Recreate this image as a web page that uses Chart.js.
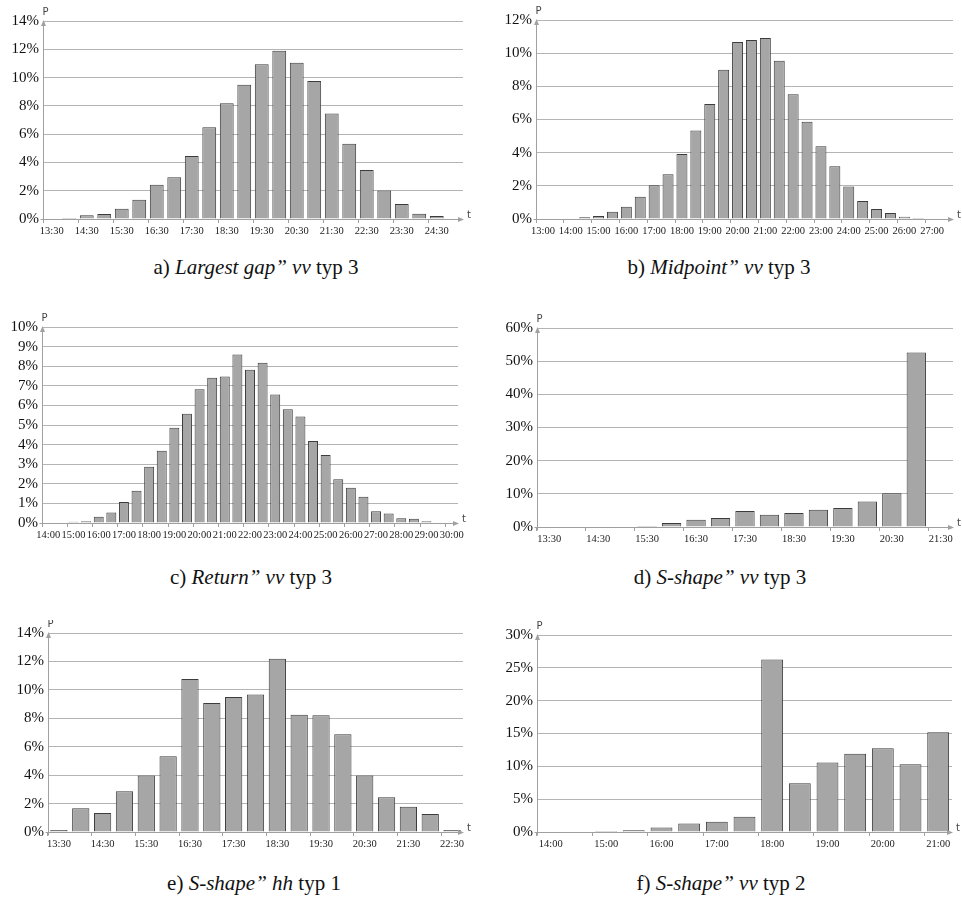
<!DOCTYPE html>
<html>
<head>
<meta charset="utf-8">
<script src="https://cdn.jsdelivr.net/npm/chart.js@4.4.1/dist/chart.umd.min.js"></script>
<style>
  body { margin: 0; background: #fff; width: 962px; height: 900px; position: relative; overflow: hidden; }
  canvas { position: absolute; }
  .cap { position: absolute; width: 400px; text-align: center; font-family: "Liberation Serif", "Times New Roman", serif; font-size: 21px; color: #111; line-height: 24px; white-space: nowrap; }
</style>
</head>
<body>
<canvas id="chartA" width="480" height="250" style="left:0;top:0"></canvas>
<canvas id="chartB" width="482" height="250" style="left:480px;top:0"></canvas>
<canvas id="chartC" width="480" height="250" style="left:0;top:300px"></canvas>
<canvas id="chartD" width="482" height="250" style="left:480px;top:300px"></canvas>
<canvas id="chartE" width="480" height="240" style="left:0;top:620px"></canvas>
<canvas id="chartF" width="482" height="240" style="left:480px;top:620px"></canvas>

<div class="cap" style="left:56px;top:255px">a) <i>Largest gap” vv</i> typ 3</div>
<div class="cap" style="left:519px;top:255px">b) <i>Midpoint” vv</i> typ 3</div>
<div class="cap" style="left:51px;top:565px">c) <i>Return” vv</i> typ 3</div>
<div class="cap" style="left:520px;top:565px">d) <i>S-shape” vv</i> typ 3</div>
<div class="cap" style="left:54px;top:871px">e) <i>S-shape” hh</i> typ 1</div>
<div class="cap" style="left:521px;top:871px">f) <i>S-shape” vv</i> typ 2</div>

<script>
// categories (half-hour slots) and values in %
const catA = ['13:30','14:00','14:30','15:00','15:30','16:00','16:30','17:00','17:30','18:00','18:30','19:00',
  '19:30','20:00','20:30','21:00','21:30','22:00','22:30','23:00','23:30','24:00','24:30','25:00'];
const valA = [0, 0.07, 0.26, 0.35, 0.73, 1.36, 2.42, 2.96, 4.45, 6.49, 8.19, 9.5,
  10.94, 11.9, 11.05, 9.76, 7.46, 5.32, 3.46, 2.02, 1.06, 0.38, 0.21, 0];

const catB = ['13:00','13:30','14:00','14:30','15:00','15:30','16:00','16:30','17:00','17:30','18:00','18:30',
  '19:00','19:30','20:00','20:30','21:00','21:30','22:00','22:30','23:00','23:30','24:00','24:30',
  '25:00','25:30','26:00','26:30','27:00','27:30'];
const valB = [0, 0, 0, 0.1, 0.18, 0.44, 0.74, 1.34, 2.04, 2.7, 3.92, 5.34,
  6.94, 9.0, 10.68, 10.8, 10.92, 9.54, 7.52, 5.86, 4.38, 3.18, 1.96, 1.08,
  0.6, 0.36, 0.14, 0.06, 0, 0];

const catC = ['14:00','14:30','15:00','15:30','16:00','16:30','17:00','17:30','18:00','18:30','19:00','19:30',
  '20:00','20:30','21:00','21:30','22:00','22:30','23:00','23:30','24:00','24:30','25:00','25:30',
  '26:00','26:30','27:00','27:30','28:00','28:30','29:00','29:30','30:00'];
const valC = [0, 0.03, 0.07, 0.09, 0.32, 0.54, 1.07, 1.65, 2.87, 3.69, 4.86, 5.58,
  6.82, 7.41, 7.48, 8.6, 7.82, 8.18, 6.55, 5.8, 5.43, 4.18, 3.47, 2.23,
  1.8, 1.34, 0.6, 0.49, 0.24, 0.22, 0.09, 0.03, 0];

const catD = ['13:30','14:00','14:30','15:00','15:30','16:00','16:30','17:00','17:30','18:00','18:30','19:00',
  '19:30','20:00','20:30','21:00','21:30'];
const valD = [0, 0, 0, 0, 0.3, 1.2, 2.2, 2.7, 4.8, 3.7, 4.2, 5.2, 5.7, 7.7, 10.2, 52.6, 0];

const catE = ['13:30','14:00','14:30','15:00','15:30','16:00','16:30','17:00','17:30','18:00','18:30','19:00',
  '19:30','20:00','20:30','21:00','21:30','22:00','22:30'];
const valE = [0.14, 1.67, 1.34, 2.86, 3.97, 5.33, 10.77, 9.08, 9.5, 9.67, 12.18, 8.24,
  8.22, 6.88, 3.97, 2.44, 1.78, 1.27, 0.14];

const catF = ['14:00','14:30','15:00','15:30','16:00','16:30','17:00','17:30','18:00','18:30','19:00','19:30',
  '20:00','20:30','21:00'];
const valF = [0, 0, 0.15, 0.25, 0.7, 1.3, 1.57, 2.33, 26.27, 7.44, 10.58, 11.9, 12.76, 10.33, 15.18];

const serif = '"Liberation Serif", "Times New Roman", serif';

// gray axes with arrow heads, plus the P / t axis names
const axisArrows = {
  id: 'axisArrows',
  afterDatasetsDraw(chart) {
    const { ctx, chartArea: a } = chart;
    const x0 = Math.round(a.left) + 0.5;
    const y0 = Math.round(a.bottom) + 0.5;
    ctx.save();
    ctx.strokeStyle = '#a0a0a0';
    ctx.fillStyle = '#a0a0a0';
    ctx.lineWidth = 1;
    ctx.beginPath();
    ctx.moveTo(x0, y0 + 3);
    ctx.lineTo(x0, a.top + 2);
    ctx.moveTo(x0 - 3, y0);
    ctx.lineTo(a.right - 2, y0);
    ctx.stroke();
    ctx.beginPath();
    ctx.moveTo(x0, a.top - 1);
    ctx.lineTo(x0 - 2.5, a.top + 5);
    ctx.lineTo(x0 + 2.5, a.top + 5);
    ctx.closePath();
    ctx.fill();
    ctx.beginPath();
    ctx.moveTo(a.right + 1, y0);
    ctx.lineTo(a.right - 5, y0 - 2.5);
    ctx.lineTo(a.right - 5, y0 + 2.5);
    ctx.closePath();
    ctx.fill();
    ctx.fillStyle = '#444';
    ctx.font = '10px "DejaVu Sans", sans-serif';
    ctx.textAlign = 'left';
    ctx.textBaseline = 'alphabetic';
    ctx.fillText('P', x0 - 1, a.top - 6);
    ctx.fillText('t', a.right + 4, a.bottom - 1);
    ctx.restore();
  }
};

function makeChart(id, labels, values, yMax, yStep, box) {
  const canvas = document.getElementById(id);
  const W = canvas.width, H = canvas.height;
  return new Chart(canvas, {
    type: 'bar',
    data: {
      labels: labels,
      datasets: [{
        data: values,
        backgroundColor: '#a6a6a6',
        borderColor: '#3c3c3c',
        borderWidth: ctx => (ctx.raw > 0 ? 1 : 0),
        borderSkipped: 'bottom',
        barPercentage: 0.79,
        categoryPercentage: 1
      }]
    },
    options: {
      responsive: false,
      animation: false,
      layout: { padding: { top: box.top, right: W - box.right, left: 0, bottom: 0 } },
      plugins: { legend: { display: false }, tooltip: { enabled: false } },
      scales: {
        x: {
          afterFit: s => { s.height = H - box.bottom; },
          border: { display: false },
          grid: {
            drawOnChartArea: false,
            drawTicks: true,
            tickLength: 4,
            color: ctx => (ctx.index % 2 === 0 ? '#a0a0a0' : 'rgba(0,0,0,0)')
          },
          ticks: {
            autoSkip: false,
            maxRotation: 0,
            padding: 2,
            color: '#222',
            font: { family: serif, size: 10.5 },
            callback: (v, i) => (i % 2 === 0 ? labels[i] : '')
          }
        },
        y: {
          min: 0,
          max: yMax,
          afterFit: s => { s.width = box.left; },
          border: { display: false },
          grid: {
            drawTicks: false,
            color: ctx => (ctx.index === 0 ? 'rgba(0,0,0,0)' : '#b4b4b4')
          },
          ticks: {
            stepSize: yStep,
            autoSkip: false,
            padding: 4,
            color: '#111',
            font: { family: serif, size: 15 },
            callback: v => v + '%'
          }
        }
      }
    },
    plugins: [axisArrows]
  });
}

makeChart('chartA', catA, valA, 14, 2, { left: 43, right: 463, top: 21, bottom: 219 });
makeChart('chartB', catB, valB, 12, 2, { left: 56, right: 473, top: 20, bottom: 219 });
makeChart('chartC', catC, valC, 10, 1, { left: 42, right: 458, top: 27, bottom: 223 });
makeChart('chartD', catD, valD, 60, 10, { left: 57, right: 473, top: 28, bottom: 227 });
makeChart('chartE', catE, valE, 14, 2, { left: 48, right: 463, top: 13, bottom: 212 });
makeChart('chartF', catF, valF, 30, 5, { left: 57, right: 472, top: 15, bottom: 212 });
</script>
</body>
</html>
